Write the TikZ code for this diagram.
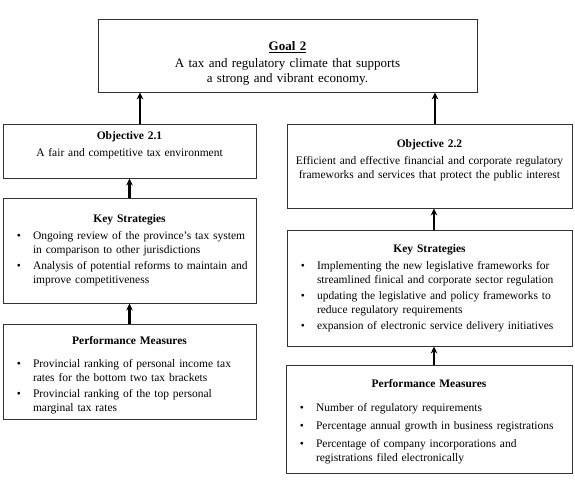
\documentclass[tikz,border=0pt]{standalone}
\usepackage{fontspec}
\setmainfont{Liberation Serif}
\usepackage{enumitem}
\usepackage{tikz}
\usetikzlibrary{positioning, arrows.meta}
\setlist[itemize]{
    label=\textbullet,
    leftmargin=26pt,
    labelsep=12pt,
    topsep=3pt,
    itemsep=2pt,
    parsep=0pt,
    partopsep=0pt
}
\tikzset{
    box/.style={
        draw=black!80,
        line width=0.9pt,
        rectangle,
        inner xsep=4pt,
        inner ysep=0pt,
        align=left,
        font=\fontsize{11.5}{14}\selectfont
    },
    link/.style={
        -{Stealth[length=7pt, width=6.5pt]},
        line width=2.2pt
    }
}

\begin{document}
\begin{tikzpicture}[x=1pt, y=-1pt]
            % Help lines :
            % \draw [help lines] (0,0) grid (575,489);
            \useasboundingbox (0,0) rectangle (575,489);

            % Goal
            \node (goal) [
                box,
                align=center,
                text width=371pt,
                minimum width=379pt,
                minimum height=73pt,
                font=\fontsize{13}{15}\selectfont,
            ] at (287.5,55.5) {\rule{0pt}{25pt}\underline{\textbf{Goal 2}}\\[2pt]
                A tax and regulatory climate that supports\\
                a strong and vibrant economy.};

            % Left column
            \node (obj1) [
                box,
                align=center,
                text width=245pt,
                minimum width=253pt,
                minimum height=54pt,
            ] at (129.5,151) {\textbf{Objective 2.1}\\[3pt]
                A fair and competitive tax environment\rule[-14pt]{0pt}{14pt}};
            \node (ks1) [
                box,
                text width=245pt,
                minimum width=253pt,
                minimum height=105pt,
            ] at (129.5,250.5) {{\centering\textbf{Key Strategies}\par}
                \begin{itemize}
                    \item Ongoing review of the province's tax system\\
                        in comparison to other jurisdictions
                    \item Analysis of potential reforms to maintain and\\
                        improve competitiveness
                \end{itemize}};
            \node (pm1) [
                box,
                text width=245pt,
                minimum width=253pt,
                minimum height=95pt,
            ] at (129.5,371.5) {{\centering\rule{0pt}{16pt}\textbf{Performance Measures}\par}
                \begin{itemize}[topsep=9pt]
                    \item Provincial ranking of personal income tax\\
                        rates for the bottom two tax brackets
                    \item Provincial ranking of the top personal\\
                        marginal tax rates
                \end{itemize}};

            % Right column
            \node (obj2) [
                box,
                align=center,
                text width=277pt,
                minimum width=285pt,
                minimum height=84pt,
            ] at (429.5,166) {\textbf{Objective 2.2}\\[3pt]
                Efficient and effective financial and corporate regulatory\\
                frameworks and services that protect the public interest\rule[-14pt]{0pt}{14pt}};
            \node (ks2) [
                box,
                text width=277pt,
                minimum width=285pt,
                minimum height=116pt,
            ] at (429.5,288) {{\centering\textbf{Key Strategies}\par}
                \begin{itemize}
                    \item Implementing the new legislative frameworks for\\
                        streamlined finical and corporate sector regulation
                    \item updating the legislative and policy frameworks to\\
                        reduce regulatory requirements
                    \item expansion of electronic service delivery initiatives
                \end{itemize}};
            \node (pm2) [
                box,
                text width=278pt,
                minimum width=286pt,
                minimum height=108pt,
            ] at (429,419) {{\centering\rule{0pt}{14pt}\textbf{Performance Measures}\par}
                \begin{itemize}[itemsep=4pt, topsep=10pt]
                    \item Number of regulatory requirements
                    \item Percentage annual growth in business registrations
                    \item Percentage of company incorporations and\\
                        registrations filed electronically
                \end{itemize}};

            % Arrow feet
            \coordinate (o1) at ([xshift=10.5pt]obj1.north);
            \coordinate (o2) at ([xshift=5.5pt]obj2.north);
            \coordinate (k2) at ([xshift=4.5pt]ks2.north);
            \coordinate (p2) at ([xshift=5pt]pm2.north);

            % Edges
            \path [link]
                % Up to the goal
                (o1) edge (o1 |- goal.south)
                (o2) edge (o2 |- goal.south)

                % Left column
                (ks1) edge (obj1)
                (pm1) edge (ks1)

                % Right column
                (k2) edge (k2 |- obj2.south)
                (p2) edge (p2 |- ks2.south)
            ;
\end{tikzpicture}
\end{document}
